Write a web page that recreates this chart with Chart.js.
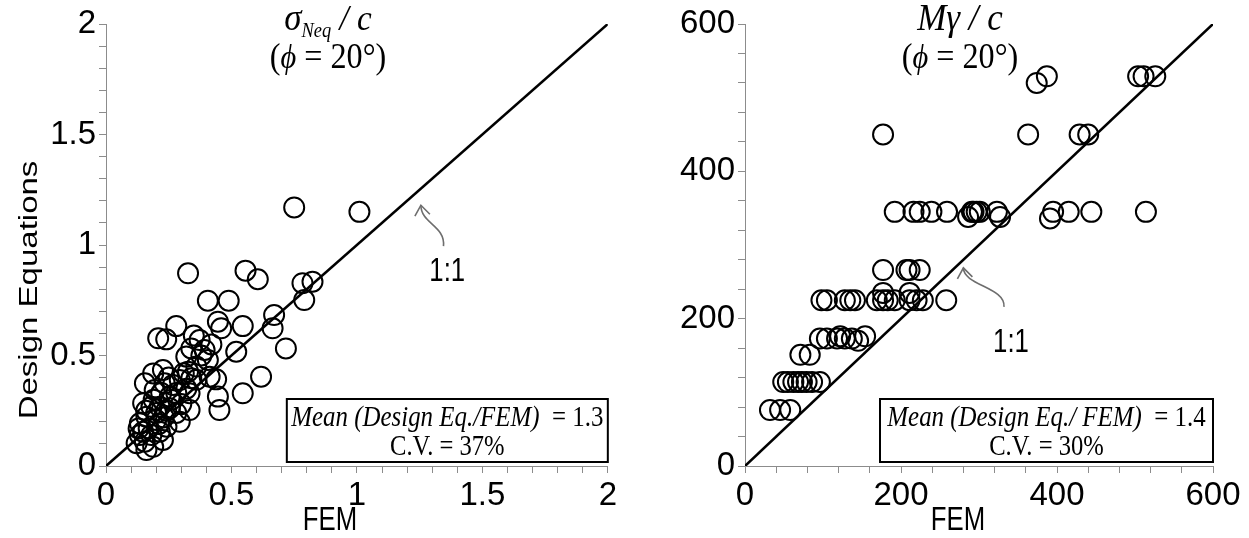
<!DOCTYPE html>
<html>
<head>
<meta charset="utf-8">
<script src="https://cdn.jsdelivr.net/npm/chart.js@4.4.1/dist/chart.umd.min.js"></script>
<style>
  html, body { margin: 0; padding: 0; background: #fff; }
  #wrap { position: relative; width: 1249px; height: 538px; overflow: hidden; }
  canvas { position: absolute; top: 0; }
  #stress { left: 0; }
  #moment { left: 620px; }
</style>
</head>
<body>
<div id="wrap">
  <canvas id="stress" width="620" height="538"></canvas>
  <canvas id="moment" width="629" height="538"></canvas>
</div>
<script>
// ---- sigma_Neq / c : FEM result vs design-equation prediction ----
const stressFem = [
  0.327, 0.556, 0.605, 0.406, 0.489, 0.783, 0.823, 0.790, 0.750, 1.010,
  0.280, 0.208, 0.240, 0.446, 0.459, 0.545, 0.670, 0.664, 0.717, 0.519,
  0.618, 0.545, 0.446, 0.452, 0.439, 0.373, 0.393, 0.340, 0.320, 0.406,
  0.360, 0.413, 0.327, 0.340, 0.294, 0.333, 0.267, 0.227, 0.188, 0.155,
  0.234, 0.194, 0.254, 0.333, 0.294, 0.148, 0.181, 0.214, 0.254, 0.161,
  0.200, 0.135, 0.241, 0.148, 0.181, 0.214, 0.227, 0.155, 0.135, 0.161,
  0.188, 0.122, 0.170, 0.200, 0.230, 0.260, 0.280, 0.300, 0.190, 0.220,
  0.250, 0.310, 0.360, 0.380, 0.420, 0.130, 0.160, 0.210, 0.240, 0.280,
  0.320, 0.350
];
const stressDesign = [
  0.872, 0.884, 0.845, 0.748, 0.748, 0.827, 0.834, 0.751, 1.170, 1.150,
  0.633, 0.578, 0.573, 0.653, 0.623, 0.633, 0.683, 0.623, 0.532, 0.517,
  0.404, 0.329, 0.314, 0.253, 0.392, 0.570, 0.525, 0.532, 0.495, 0.480,
  0.450, 0.404, 0.427, 0.397, 0.389, 0.329, 0.367, 0.434, 0.419, 0.374,
  0.374, 0.344, 0.314, 0.253, 0.200, 0.284, 0.268, 0.268, 0.261, 0.223,
  0.208, 0.193, 0.178, 0.155, 0.140, 0.155, 0.118, 0.110, 0.140, 0.072,
  0.087, 0.103, 0.170, 0.240, 0.220, 0.300, 0.330, 0.280, 0.300, 0.330,
  0.400, 0.420, 0.390, 0.500, 0.550, 0.170, 0.250, 0.190, 0.250, 0.240,
  0.350, 0.590
];

// ---- M gamma / c : FEM result vs design-equation prediction ----
const momentFem = [
  374, 387, 504, 511, 526,
  177, 363, 429, 440,
  192, 216, 224, 239, 259, 286, 291, 293, 297, 301, 323, 327, 391, 395, 415, 444, 514,
  177, 207, 211, 224,
  98, 105, 128, 135, 141, 169, 177, 183, 192, 211, 220, 228, 258, 177, 211,
  96, 105, 118, 122, 128, 137, 145, 154,
  71, 83,
  49, 55, 62, 68, 73, 79, 86, 96,
  32, 45, 58
];
const momentDesign = [
  520, 529, 529, 529, 529,
  450, 450, 450, 450,
  345, 345, 345, 345, 345, 338, 345, 345, 345, 345, 345, 338, 336, 345, 345, 345, 345,
  266, 266, 266, 266,
  225, 225, 225, 225, 225, 225, 225, 225, 225, 225, 225, 225, 225, 235, 235,
  173, 173, 173, 176, 173, 173, 170, 176,
  151, 151,
  114, 114, 114, 114, 114, 114, 114, 114,
  76, 76, 76
];

// axis ranges, tick spacing and labelled ticks
const stressRange = [0, 2];
const stressMinorStep = 0.1;
const stressTickLabels = [0, 0.5, 1, 1.5, 2];
const momentRange = [0, 600];
const momentMinorStep = 40;
const momentTickLabels = [0, 200, 400, 600];

// summary statistics shown in the boxes
const stressStats = { mean: '1.3', cv: '37%' };
const momentStats = { mean: '1.4', cv: '30%' };

const AXIS_GREY = '#8c8c8c';
const SANS = '"Liberation Sans Narrow", "Arial Narrow", "Liberation Sans", Arial, sans-serif';
const SANS_W = '"Liberation Sans", Arial, sans-serif';
const SERIF = '"Liberation Serif", "Times New Roman", "DejaVu Serif", serif';
const SQUEEZE = 0.78;   // axis names are set condensed

function toPoints(xs, ys) {
  return xs.map((x, i) => ({ x: x, y: ys[i] }));
}

// writes a row of differently styled text runs centred on cx
function drawRuns(ctx, runs, cx, baseline, squeeze) {
  ctx.save();
  ctx.translate(cx, baseline);
  ctx.scale(squeeze, 1);
  let total = 0;
  runs.forEach(r => { ctx.font = r.font; r.w = ctx.measureText(r.text).width; total += r.w; });
  let x = -total / 2;
  ctx.textAlign = 'left';
  ctx.textBaseline = 'alphabetic';
  ctx.fillStyle = '#000';
  runs.forEach(r => { ctx.font = r.font; ctx.fillText(r.text, x, r.dy || 0); x += r.w; });
  ctx.restore();
}

function drawSans(ctx, text, x, y, size, rotate) {
  ctx.save();
  ctx.translate(x, y);
  ctx.scale(SQUEEZE, 1);
  if (rotate) ctx.rotate(-Math.PI / 2);
  ctx.font = size + 'px ' + SANS_W;
  ctx.fillStyle = '#000';
  ctx.textAlign = 'center';
  ctx.textBaseline = 'middle';
  ctx.fillText(text, 0, 0);
  ctx.restore();
}

// titles, axis names, the 1:1 callout and the statistics box
const panelDecor = {
  id: 'panelDecor',
  afterDraw(chart, args, o) {
    const ctx = chart.ctx;
    const a = chart.chartArea;
    const sx = chart.scales.x, sy = chart.scales.y;

    // panel title
    drawRuns(ctx, o.title, o.titleX, 30, 0.92);
    drawRuns(ctx, [
      { text: '(', font: '35px ' + SERIF },
      { text: '\u03D5', font: 'italic 33px ' + SERIF },
      { text: ' = 20\u00B0)', font: '35px ' + SERIF }
    ], o.titleX, 68, 0.92);

    // axis names
    drawSans(ctx, 'FEM', o.xTitleX, 521, 33, false);
    if (o.yTitle) drawSans(ctx, o.yTitle, 30, 290, 33, true);

    // 1:1 callout with curved arrow
    const tx = sx.getPixelForValue(o.arrowTip[0]), ty = sy.getPixelForValue(o.arrowTip[1]);
    const ex = sx.getPixelForValue(o.arrowTail[0]), ey = sy.getPixelForValue(o.arrowTail[1]);
    ctx.save();
    ctx.strokeStyle = '#6e6e6e';
    ctx.lineWidth = 1.6;
    ctx.beginPath();
    ctx.moveTo(tx, ty);
    ctx.bezierCurveTo(tx, ty + (ey - ty) * 0.45, ex + 2, ey - (ey - ty) * 0.5, ex, ey);
    ctx.stroke();
    ctx.beginPath();
    ctx.moveTo(tx - 6, ty + 11);
    ctx.lineTo(tx, ty);
    ctx.lineTo(tx + 9, ty + 9);
    ctx.stroke();
    ctx.restore();
    drawSans(ctx, '1:1', sx.getPixelForValue(o.labelAt[0]), sy.getPixelForValue(o.labelAt[1]), 33, false);

    // statistics box
    const bw = o.boxWidth, bh = 63;
    const bx = a.right - bw, by = a.bottom - 4 - bh;
    ctx.save();
    ctx.fillStyle = '#fff';
    ctx.fillRect(bx, by, bw, bh);
    ctx.strokeStyle = '#000';
    ctx.lineWidth = 2;
    ctx.strokeRect(bx, by, bw, bh);
    ctx.restore();
    drawRuns(ctx, [
      { text: o.meanLabel, font: 'italic 30px ' + SERIF },
      { text: '  = ' + o.stats.mean, font: '30px ' + SERIF }
    ], bx + bw / 2, by + 27, 0.83);
    drawRuns(ctx, [{ text: 'C.V. = ' + o.stats.cv, font: '30px ' + SERIF }], bx + bw / 2, by + 56, 0.82);
  }
};

function axis(range, step, labels, fit) {
  return {
    type: 'linear',
    min: range[0],
    max: range[1],
    afterFit: fit,
    border: { display: true, color: AXIS_GREY, width: 1 },
    grid: { display: true, drawOnChartArea: false, drawTicks: true, tickLength: 7, color: AXIS_GREY, lineWidth: 1 },
    ticks: {
      stepSize: step,
      autoSkip: false,
      maxRotation: 0,
      padding: 3,
      color: '#000',
      font: { family: SANS, size: 33 },
      callback: v => labels.some(m => Math.abs(m - v) < step / 100) ? String(Math.round(v * 10) / 10) : ''
    }
  };
}

function buildPanel(id, pts, range, step, labels, yWidth, padRight, decor) {
  return new Chart(document.getElementById(id), {
    type: 'scatter',
    data: {
      datasets: [
        {
          data: pts,
          pointStyle: 'circle',
          pointRadius: 10,
          pointBorderWidth: 2,
          borderColor: '#000',
          backgroundColor: 'rgba(0,0,0,0)',
          pointBackgroundColor: 'rgba(0,0,0,0)'
        },
        {
          data: [{ x: range[0], y: range[0] }, { x: range[1], y: range[1] }],
          showLine: true,
          borderColor: '#000',
          borderWidth: 2.6,
          pointRadius: 0
        }
      ]
    },
    options: {
      responsive: false,
      animation: false,
      devicePixelRatio: 1,
      layout: { padding: { top: 24, right: padRight, left: 0, bottom: 0 } },
      plugins: { legend: { display: false }, tooltip: { enabled: false }, panelDecor: decor },
      scales: {
        x: axis(range, step, labels, s => { s.height = 72; }),
        y: axis(range, step, labels, s => { s.width = yWidth; })
      }
    },
    plugins: [panelDecor]
  });
}

buildPanel('stress', toPoints(stressFem, stressDesign), stressRange, stressMinorStep, stressTickLabels, 106, 10, {
  title: [
    { text: '\u03C3', font: 'italic 38px ' + SERIF },
    { text: 'Neq', font: 'italic 20px ' + SERIF, dy: 7 },
    { text: ' / c', font: 'italic 36px ' + SERIF }
  ],
  titleX: 328,
  xTitleX: 330,
  yTitle: 'Design Equations',
  arrowTip: [1.255, 1.18],
  arrowTail: [1.345, 0.995],
  labelAt: [1.36, 0.88],
  boxWidth: 321,
  meanLabel: 'Mean (Design Eq./FEM)',
  stats: stressStats
});

buildPanel('moment', toPoints(momentFem, momentDesign), momentRange, momentMinorStep, momentTickLabels, 125, 36, {
  title: [
    { text: 'M\u03B3 / c', font: 'italic 38px ' + SERIF }
  ],
  titleX: 340,
  xTitleX: 338,
  yTitle: null,
  arrowTip: [280, 269],
  arrowTail: [332, 216],
  labelAt: [341, 167],
  boxWidth: 333,
  meanLabel: 'Mean (Design Eq./ FEM)',
  stats: momentStats
});
</script>
</body>
</html>
